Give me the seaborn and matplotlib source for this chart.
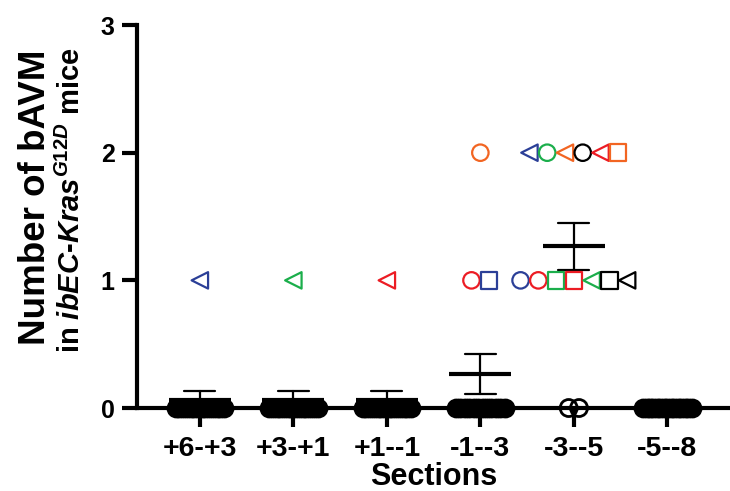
import matplotlib
matplotlib.use("Agg")
import matplotlib.pyplot as plt
import numpy as np
import pandas as pd
import seaborn as sns

# ---------------------------------------------------------------
# data: bAVM count per mouse (n = 15 mice) in each brain section
# ---------------------------------------------------------------
sections = ["+6-+3", "+3-+1", "+1--1", "-1--3", "-3--5", "-5--8"]

counts_p6_p3 = [1, 0, 0, 0, 0, 0, 0, 0, 0, 0, 0, 0, 0, 0, 0]
counts_p3_p1 = [1, 0, 0, 0, 0, 0, 0, 0, 0, 0, 0, 0, 0, 0, 0]
counts_p1_m1 = [1, 0, 0, 0, 0, 0, 0, 0, 0, 0, 0, 0, 0, 0, 0]
counts_m1_m3 = [1, 1, 2, 0, 0, 0, 0, 0, 0, 0, 0, 0, 0, 0, 0]
counts_m3_m5 = [1, 1, 1, 1, 1, 1, 1, 2, 2, 2, 2, 2, 2, 0, 0]
counts_m5_m8 = [0, 0, 0, 0, 0, 0, 0, 0, 0, 0, 0, 0, 0, 0, 0]

all_counts = [counts_p6_p3, counts_p3_p1, counts_p1_m1,
              counts_m1_m3, counts_m3_m5, counts_m5_m8]

# symbol of each mouse with bAVM (same order as the non-zero counts)
BLUE, GREEN, RED, ORANGE, BLACK = "#2B3F97", "#1BAE4B", "#EC1C24", "#F26522", "#000000"
mouse_symbols = {
    "+6-+3": [("<", BLUE)],
    "+3-+1": [("<", GREEN)],
    "+1--1": [("<", RED)],
    "-1--3": [("o", RED), ("s", BLUE), ("o", ORANGE)],
    "-3--5": [("o", BLUE), ("o", RED), ("s", GREEN), ("s", RED), ("<", GREEN),
              ("s", BLACK), ("<", BLACK),
              ("<", BLUE), ("o", GREEN), ("<", ORANGE), ("o", BLACK), ("<", RED),
              ("s", ORANGE)],
}

df = pd.DataFrame({
    "Sections": np.repeat(sections, [len(c) for c in all_counts]),
    "count": np.concatenate(all_counts),
})

# ---------------------------------------------------------------
# style
# ---------------------------------------------------------------
sns.set_theme(style="ticks")
plt.rcParams["font.family"] = ["Liberation Sans", "DejaVu Sans"]
plt.rcParams["font.weight"] = "bold"
plt.rcParams["text.color"] = "black"
plt.rcParams["axes.labelcolor"] = "black"
plt.rcParams["xtick.color"] = "black"
plt.rcParams["ytick.color"] = "black"
plt.rcParams["axes.edgecolor"] = "black"
plt.rcParams["mathtext.fontset"] = "custom"
plt.rcParams["mathtext.rm"] = "Liberation Sans:bold"
plt.rcParams["mathtext.bf"] = "Liberation Sans:bold"
plt.rcParams["mathtext.it"] = "Liberation Sans:italic:bold"

fig = plt.figure(figsize=(7.3, 4.91), dpi=100)
ax = fig.add_axes([0.1877, 0.169, 0.8123, 0.780])

# mean +/- SEM
sns.pointplot(data=df, x="Sections", y="count", order=sections, errorbar="se",
              color="black", markers="_", markersize=45, markeredgewidth=3,
              linestyle="none", capsize=0.33, err_kws={"linewidth": 1.6}, ax=ax)

# individual mice, spread side by side inside each (section, value) group
for i, sec in enumerate(sections):
    vals = np.array(all_counts[i])
    syms = mouse_symbols.get(sec, [])
    nz = [j for j in range(len(vals)) if vals[j] != 0]
    sym_of = dict(zip(nz, syms))
    for v in sorted(set(vals)):
        idx = [j for j in range(len(vals)) if vals[j] == v]
        n = len(idx)
        if v == 0:
            step = min(0.11, 0.52 / max(n - 1, 1))
        else:
            step = 0.19
        offs = (np.arange(n) - (n - 1) / 2) * step
        for j, dx in zip(idx, offs):
            if v == 0:
                fc = "none" if sec == "-3--5" else "black"
                ax.scatter(i + dx, v, s=150, marker="o", facecolor=fc,
                           edgecolor="black", linewidth=2, zorder=4, clip_on=False)
            else:
                m, c = sym_of[j]
                ax.scatter(i + dx, v, s=140, marker=m, facecolor="none",
                           edgecolor=c, linewidth=1.6, zorder=4, clip_on=False)

ax.set_xlim(-0.672, 5.67)
ax.set_ylim(0, 3)
ax.set_yticks([0, 1, 2, 3])
sns.despine(ax=ax)
for sp in ["left", "bottom"]:
    ax.spines[sp].set_linewidth(3)
ax.tick_params(axis="y", length=11, width=3, pad=5, labelsize=18)
ax.tick_params(axis="x", length=14, width=3, pad=6, labelsize=20.5)
for lab in ax.get_xticklabels() + ax.get_yticklabels():
    lab.set_fontweight("bold")

ax.set_xlabel("Sections", fontsize=22, fontweight="bold", labelpad=0)
ax.set_ylabel("")
# two-line y title, first line set larger as in the original
fig.text(36 / 730, 1 - 197 / 491, "Number of bAVM", rotation=90, ha="center",
         va="center", fontsize=26.5, fontweight="bold")
fig.text(71 / 730, 1 - 200 / 491,
         "in $\\mathit{ibEC}$-$\\mathit{Kras}^{\\mathit{G12D}}$ mice",
         rotation=90, ha="center", va="center", fontsize=21, fontweight="bold")

fig.savefig("out.png", dpi=100)
